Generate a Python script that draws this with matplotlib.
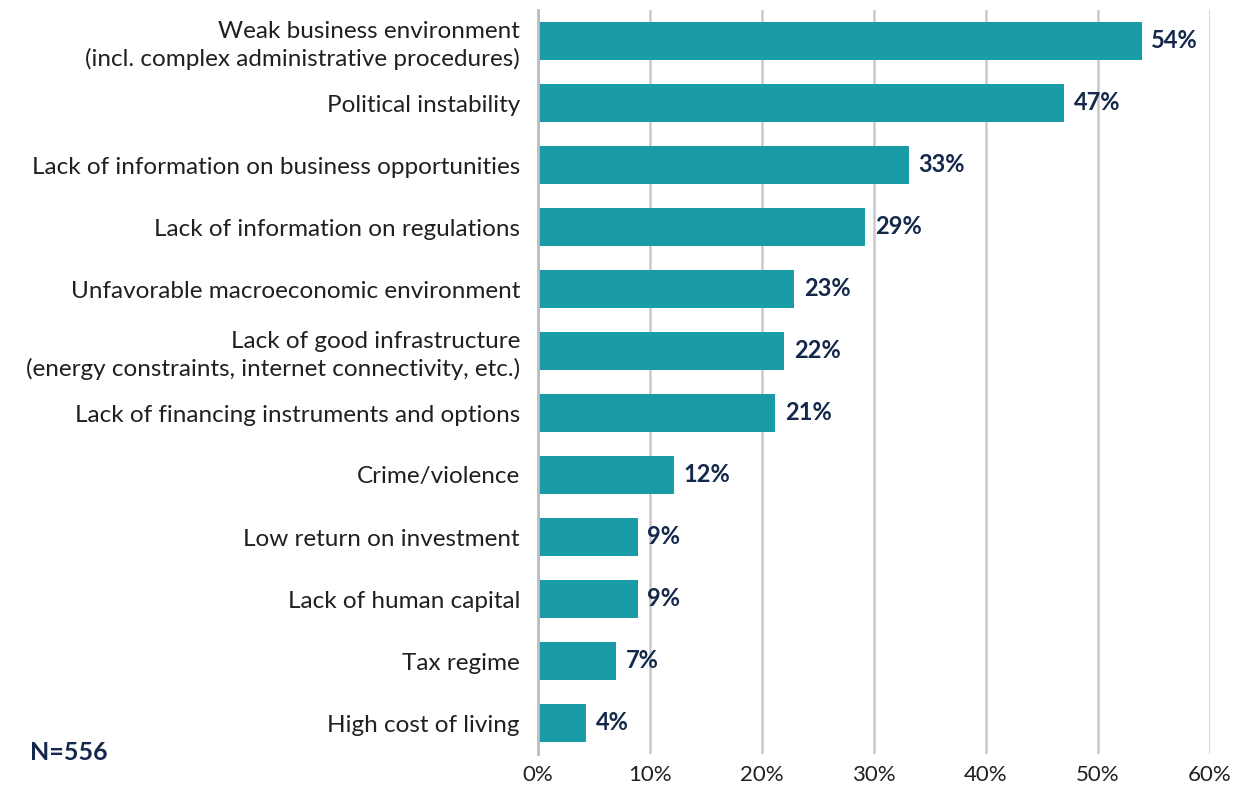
import numpy as np
from matplotlib import pyplot as plt
from matplotlib.ticker import FuncFormatter

CATEGORIES = [
    "Weak business environment\n(incl. complex administrative procedures)",
    "Political instability",
    "Lack of information on business opportunities",
    "Lack of information on regulations",
    "Unfavorable macroeconomic environment",
    "Lack of good infrastructure\n(energy constraints, internet connectivity, etc.)",
    "Lack of financing instruments and options",
    "Crime/violence",
    "Low return on investment",
    "Lack of human capital",
    "Tax regime",
    "High cost of living",
]
SHARES = [53.9, 47.0, 33.1, 29.2, 22.9, 22.0, 21.2, 12.1, 8.9, 8.9, 7.0, 4.3]
VALUE_LABELS = ["54%", "47%", "33%", "29%", "23%", "22%", "21%", "12%", "9%", "9%", "7%", "4%"]
X_TICKS = [0, 10, 20, 30, 40, 50, 60]
N_TEXT = "N=556"

TEAL = "#1A9CA6"
NAVY = "#14284B"
TEXT = "#231F20"
GRID = "#C9C9C9"

plt.rcParams["font.family"] = ["Lato", "DejaVu Sans"]

fig = plt.figure(figsize=(12.35, 7.85), dpi=100)
ax = fig.add_axes([538 / 1235, 1 - 754 / 785, (1210 - 538) / 1235, (754 - 10) / 785])

y = np.arange(len(CATEGORIES))
ax.barh(y, SHARES, height=0.62, color=TEAL, zorder=3)

for yi, v, lab in zip(y, SHARES, VALUE_LABELS):
    ax.annotate(lab, (v, yi), xytext=(7, 0), textcoords="offset points",
                va="center", ha="left", fontsize=17, fontweight="bold",
                color=NAVY, zorder=4)

ax.set_xlim(0, 60)
ax.set_ylim(len(CATEGORIES) - 0.5, -0.5)
ax.set_xticks(X_TICKS)
ax.xaxis.set_major_formatter(FuncFormatter(lambda v, _: f"{v:.0f}%"))
ax.set_yticks(y)
ax.set_yticklabels(CATEGORIES, fontsize=17.5, color=TEXT, linespacing=1.3)
ax.tick_params(axis="x", labelsize=16, colors=TEXT, length=0, pad=8)
ax.tick_params(axis="y", length=0, pad=13)

ax.grid(axis="x", color=GRID, linewidth=1.8, zorder=0)
for side in ["top", "right", "bottom"]:
    ax.spines[side].set_visible(False)
ax.spines["left"].set_color("#BDBDBD")
ax.spines["left"].set_linewidth(2)
ax.spines["left"].set_zorder(5)

fig.text(30 / 1235, 1 - 752 / 785, N_TEXT, fontsize=18, fontweight="bold",
         color=NAVY, va="center", ha="left")

fig.savefig("out.png", dpi=100)
